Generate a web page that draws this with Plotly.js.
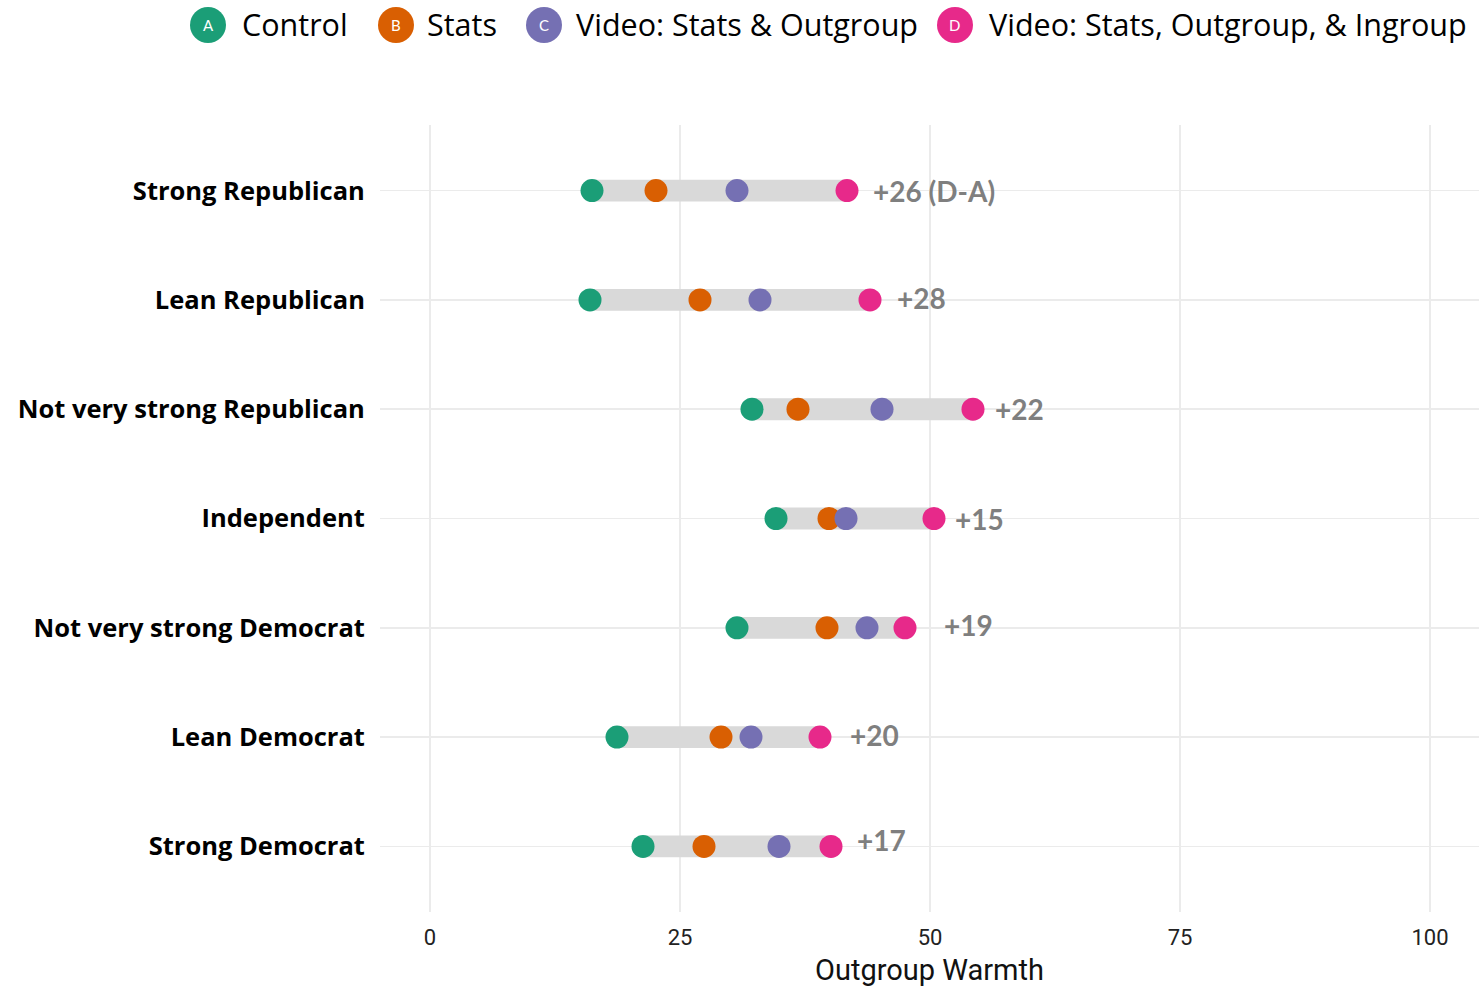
<!DOCTYPE html>
<html>
<head>
<meta charset="utf-8">
<script src="https://cdn.plot.ly/plotly-3.0.1.min.js"></script>
<style>html,body{margin:0;padding:0;background:#fff;}#chart{width:1479px;height:988px;}</style>
</head>
<body>
<div id="chart"></div>
<script>
// ---- data ----
const categories = ["Strong Republican","Lean Republican","Not very strong Republican","Independent","Not very strong Democrat","Lean Democrat","Strong Democrat"];
const control   = [16.2, 16.0, 32.2, 34.6, 30.7, 18.7, 21.3];
const stats     = [22.6, 27.0, 36.8, 39.9, 39.7, 29.1, 27.4];
const videoOut  = [30.7, 33.0, 45.2, 41.6, 43.7, 32.1, 34.9];
const videoIn   = [41.7, 44.0, 54.3, 50.4, 47.5, 39.0, 40.1];
const diffLabels = ["+26 (D-A)", "+28", "+22", "+15", "+19", "+20", "+17"];
const diffLabelX = [44.1, 46.5, 56.3, 52.3, 51.2, 41.8, 42.5];
const diffLabelShift = [0, 2, 0, 0, 3, 2, 6];
const seriesNames = ["Control","Stats","Video: Stats & Outgroup","Video: Stats, Outgroup, & Ingroup"];
const seriesLetters = ["A","B","C","D"];
const seriesColors = ["#1B9E77","#D95F02","#7570B3","#E7298A"];
const xTicks = [0, 25, 50, 75, 100];

const mainFont = "Lato, 'Open Sans', sans-serif";
const wideFont = "'Open Sans', 'Noto Sans', sans-serif";
const condFont = "Roboto, Lato, sans-serif";

const traces = [];
// gray range bars A -> D
traces.push({
  type: 'bar', orientation: 'h',
  y: categories,
  base: control,
  x: control.map((a, i) => videoIn[i] - a),
  width: 0.2,
  marker: {color: '#d9d9d9', line: {width: 0}},
  hoverinfo: 'skip', showlegend: false
});
const allSeries = [control, stats, videoOut, videoIn];
allSeries.forEach((vals, k) => {
  traces.push({
    type: 'scatter', mode: 'markers',
    x: vals, y: categories,
    name: seriesNames[k],
    marker: {color: seriesColors[k], size: 23, line: {width: 0}},
    showlegend: false
  });
});

const annotations = categories.map((c, i) => ({
  x: diffLabelX[i], y: c, xref: 'x', yref: 'y',
  text: diffLabels[i], showarrow: false, xanchor: 'left', yanchor: 'middle',
  yshift: diffLabelShift[i],
  font: {family: mainFont, size: 28, color: '#7f7f7f', weight: 700}
}));

// custom legend (circles with letters)
const legendCirclePx = [208, 396, 544, 955];
const legendTextPx = [240, 425, 574, 987];
const plotL = 380, plotW = 1099;
const shapes = [];
seriesNames.forEach((n, k) => {
  const px = (legendCirclePx[k] - plotL) / plotW;
  shapes.push({
    type: 'circle', xref: 'paper', yref: 'paper',
    xsizemode: 'pixel', ysizemode: 'pixel',
    xanchor: px, yanchor: 1,
    x0: -18, x1: 18, y0: 100 - 18, y1: 100 + 18,
    fillcolor: seriesColors[k], line: {width: 0}
  });
  annotations.push({
    xref: 'paper', yref: 'paper', x: px, y: 1, yshift: 100,
    text: seriesLetters[k], showarrow: false, xanchor: 'center', yanchor: 'middle',
    font: {family: mainFont, size: 15, color: '#ffffff'}
  });
  annotations.push({
    xref: 'paper', yref: 'paper', x: (legendTextPx[k] - plotL) / plotW, y: 1, yshift: 101,
    text: n, showarrow: false, xanchor: 'left', yanchor: 'middle',
    font: {family: wideFont, size: 30.5, color: '#000000'}
  });
});

const layout = {
  width: 1479, height: 988,
  margin: {l: 380, r: 0, t: 125, b: 76, pad: 0},
  paper_bgcolor: '#ffffff', plot_bgcolor: '#ffffff',
  showlegend: false,
  barmode: 'overlay',
  xaxis: {
    range: [-5, 104.9],
    tickvals: xTicks, ticktext: xTicks.map(String),
    showgrid: true, gridcolor: '#ebebeb', gridwidth: 1.6,
    zeroline: false, showline: false,
    ticks: 'outside', ticklen: 6, tickcolor: 'rgba(0,0,0,0)',
    tickfont: {family: condFont, size: 22, color: '#222222'},
    title: {text: 'Outgroup Warmth', font: {family: condFont, size: 29, color: '#111111'}, standoff: 10}
  },
  yaxis: {
    type: 'category',
    categoryorder: 'array', categoryarray: categories,
    range: [6.6, -0.6],
    showgrid: true, gridcolor: '#ebebeb', gridwidth: 1.6,
    zeroline: false, showline: false,
    ticks: 'outside', ticklen: 9, tickcolor: 'rgba(0,0,0,0)',
    tickfont: {family: wideFont, size: 25.5, color: '#000000', weight: 700}
  },
  shapes: shapes,
  annotations: annotations
};

Plotly.newPlot('chart', traces, layout, {displayModeBar: false, staticPlot: true});
</script>
</body>
</html>
